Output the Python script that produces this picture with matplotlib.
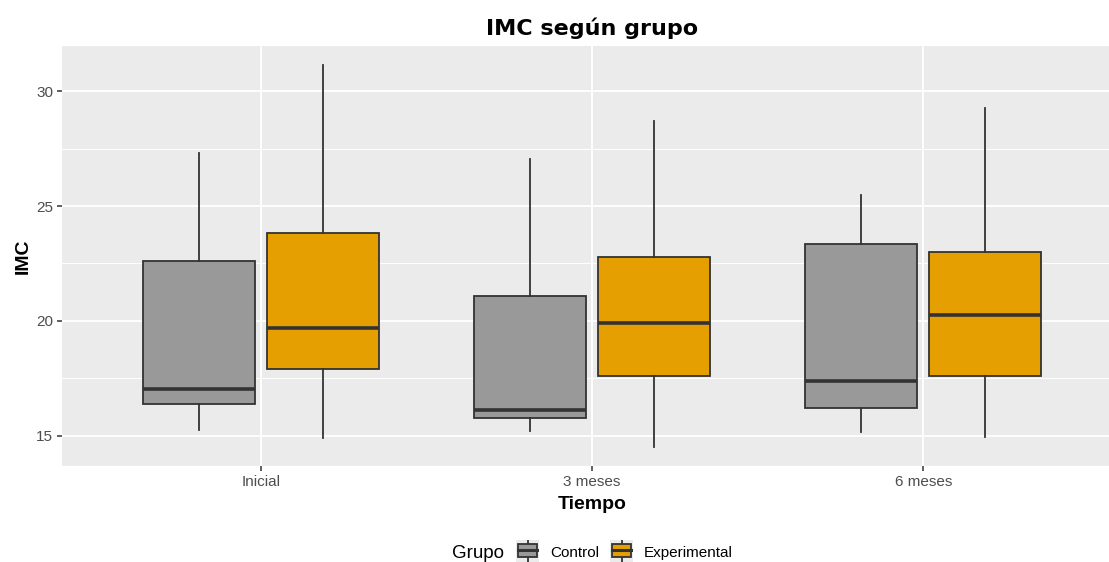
import matplotlib.pyplot as plt
from matplotlib.patches import Rectangle
from matplotlib.lines import Line2D

# resumen de cajas leido por grupo y tiempo
tiempos = ["Inicial", "3 meses", "6 meses"]
grupos = ["Control", "Experimental"]
colores = ["#999999", "#E69F00"]

control_min = [15.26, 15.22, 15.17]
control_q1 = [16.39, 15.78, 16.22]
control_med = [17.04, 16.13, 17.39]
control_q3 = [22.61, 21.09, 23.35]
control_max = [27.30, 27.04, 25.48]

exp_min = [14.91, 14.52, 14.96]
exp_q1 = [17.91, 17.61, 17.61]
exp_med = [19.70, 19.91, 20.26]
exp_q3 = [23.83, 22.78, 23.00]
exp_max = [31.13, 28.70, 29.26]

gris = "#333333"
plt.rcParams['font.family'] = ['Liberation Sans', 'DejaVu Sans']

fig = plt.figure(figsize=(11.09, 5.62), dpi=100)
ax = fig.add_axes([62 / 1109, 96 / 562, 1060 / 1109, 420 / 562])
ax.set_facecolor("#EBEBEB")
for s in ax.spines.values():
    s.set_visible(False)

series = [
    (control_min, control_q1, control_med, control_q3, control_max),
    (exp_min, exp_q1, exp_med, exp_q3, exp_max),
]
offsets = [-0.1875, 0.1875]
for g, (mn, q1, med, q3, mx) in enumerate(series):
    stats = []
    for i in range(len(tiempos)):
        stats.append(dict(whislo=mn[i], q1=q1[i], med=med[i], q3=q3[i], whishi=mx[i], fliers=[]))
    pos = [i + 1 + offsets[g] for i in range(len(tiempos))]
    ax.bxp(stats, positions=pos, widths=0.3375, showcaps=False, patch_artist=True,
           boxprops=dict(facecolor=colores[g], edgecolor=gris, linewidth=1.3),
           whiskerprops=dict(color=gris, linewidth=1.3),
           medianprops=dict(color=gris, linewidth=2.6, solid_capstyle="butt"),
           zorder=3)

ax.set_xlim(0.4, 3.6)
ax.set_ylim(13.69, 31.96)
ax.set_xticks([1, 2, 3])
ax.set_xticklabels(tiempos)
ax.set_yticks([15, 20, 25, 30])
ax.set_yticks([17.5, 22.5, 27.5], minor=True)
ax.tick_params(axis="both", which="major", colors=gris, length=3.5, width=1.1,
               labelsize=11, labelcolor="#4D4D4D", pad=3)
ax.tick_params(axis="y", which="minor", length=0)
ax.grid(which="major", color="white", linewidth=1.3, zorder=0)
ax.grid(which="minor", axis="y", color="white", linewidth=0.7, zorder=0)
ax.set_axisbelow(True)

ax.set_xlabel("Tiempo", fontsize=14, fontweight="bold", labelpad=5)
ax.set_ylabel("IMC", fontsize=14, fontweight="bold", labelpad=3)
ax.set_title("IMC según grupo", fontsize=16, fontweight="bold", family="DejaVu Sans", pad=8)

# leyenda inferior
fig.text(452 / 1109, 1 - 553 / 562, "Grupo", fontsize=13.5, va="center", ha="left")
for g, (x0, lab) in enumerate([(516, "Control"), (610, "Experimental")]):
    kx = fig.add_axes([x0 / 1109, 0, 23 / 1109, 22 / 562])
    kx.set_xlim(0, 1)
    kx.set_ylim(0, 1)
    kx.axis("off")
    kx.add_patch(Rectangle((0, 0), 1, 1, facecolor="#EBEBEB", edgecolor="none", zorder=0))
    kx.add_line(Line2D([0.5, 0.5], [0.0, 1.0], color=gris, lw=1.3, zorder=1))
    kx.add_patch(Rectangle((0.08, 0.22), 0.84, 0.62, facecolor=colores[g], edgecolor=gris,
                           lw=1.3, zorder=2))
    kx.add_line(Line2D([0.08, 0.92], [0.53, 0.53], color=gris, lw=2.2, zorder=3))
    fig.text((x0 + 34) / 1109, 1 - 553 / 562, lab, fontsize=11, va="center", ha="left")

fig.savefig("out.png", dpi=100)
